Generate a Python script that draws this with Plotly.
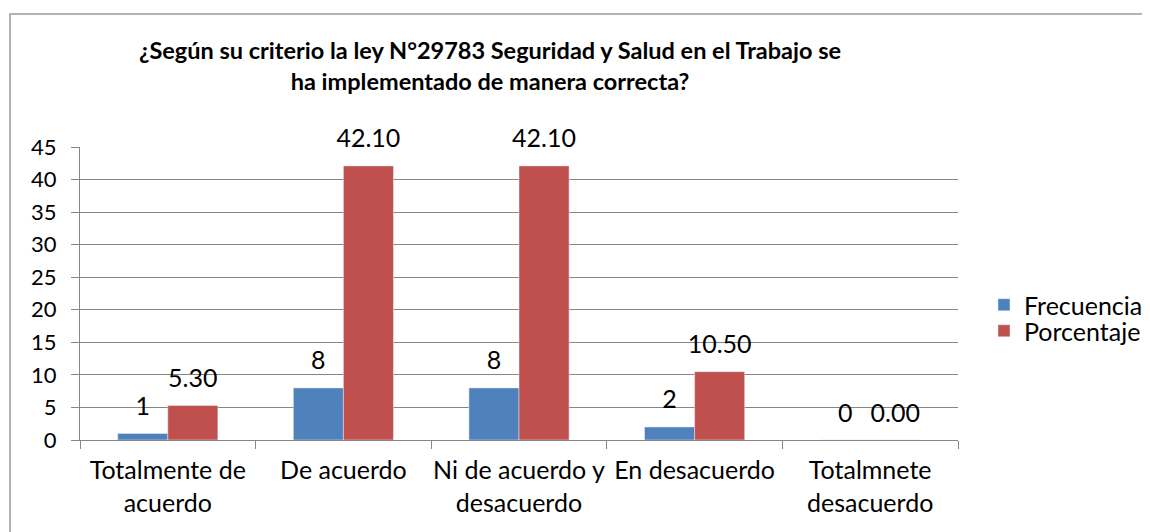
import plotly.graph_objects as go

categories = ["Totalmente de<br>acuerdo", "De acuerdo", "Ni de acuerdo y<br>desacuerdo", "En desacuerdo", "Totalmnete<br>desacuerdo"]
frecuencia = [1, 8, 8, 2, 0]
porcentaje = [5.30, 42.10, 42.10, 10.50, 0.00]
frec_labels = ["1", "8", "8", "2", "0"]
porc_labels = ["5.30", "42.10", "42.10", "10.50", "0.00"]
y_ticks = [0, 5, 10, 15, 20, 25, 30, 35, 40, 45]

FONT = "Lato"
BLUE, RED = "#4F81BD", "#C0504D"
GAP = 0.43
# page body has an 8px margin; figure coordinates are offset accordingly
L, R, T, B = 72, 950, 139, 432
PW, PH = R - L, B - T

fig = go.Figure()
fig.add_trace(go.Bar(name="Frecuencia", x=categories, y=frecuencia, marker_color=BLUE,
                     offsetgroup="f", legend="legend"))
fig.add_trace(go.Bar(name="Porcentaje", x=categories, y=porcentaje, marker_color=RED,
                     offsetgroup="p", legend="legend2"))
# data labels (invisible markers give the label offset above the bar top)
for vals, labs, grp in [(frecuencia, frec_labels, "f"), (porcentaje, porc_labels, "p")]:
    fig.add_trace(go.Scatter(x=categories, y=vals, text=labs, mode="markers+text",
                             textposition="top center", offsetgroup=grp,
                             marker=dict(size=18, color="rgba(0,0,0,0)"),
                             textfont=dict(size=25, color="black"),
                             showlegend=False, hoverinfo="skip", cliponaxis=False))

fig.update_layout(
    width=1150, height=532,
    margin=dict(l=L, r=1150 - R, t=T, b=532 - B, autoexpand=False),
    paper_bgcolor="white", plot_bgcolor="white",
    font=dict(family=FONT, size=22, color="black"),
    barmode="group", bargap=GAP, bargroupgap=0,
    scattermode="group", scattergap=GAP,
    title=dict(text="<b>¿Según su criterio la ley N°29783 Seguridad y Salud en el Trabajo se<br>ha implementado de manera correcta?</b>",
               x=482 / 1150, xanchor="center", y=1 - 51 / 532, yanchor="top",
               font=dict(size=23.5, family=FONT, color="black")),
    legend=dict(x=1.0296, y=(432 - 297) / PH, xanchor="left", yanchor="middle",
                font=dict(size=25), bgcolor="rgba(0,0,0,0)"),
    legend2=dict(x=1.0296, y=(432 - 323) / PH, xanchor="left", yanchor="middle",
                 font=dict(size=25), bgcolor="rgba(0,0,0,0)"),
)
fig.update_yaxes(range=[0, 45], tickvals=y_ticks, showgrid=True, gridcolor="#868686", gridwidth=1,
                 showline=True, linecolor="#868686", ticks="outside", ticklen=8, tickcolor="#868686",
                 tickfont=dict(size=22), zeroline=False, ticklabelstandoff=10)
fig.update_xaxes(showline=True, linecolor="#868686", ticks="outside", tickson="boundaries",
                 ticklen=8, tickcolor="#868686", tickfont=dict(size=25), tickangle=0,
                 ticklabelstandoff=8)

fig.add_shape(type="rect", xref="paper", yref="paper",
              x0=(2 - L) / PW, x1=(1139 - L) / PW,
              y0=-0.4, y1=(B - 6) / PH,
              line=dict(color="#9a9a9a", width=1.5), fillcolor="rgba(0,0,0,0)", layer="below")

fig.write_html("out.html")
